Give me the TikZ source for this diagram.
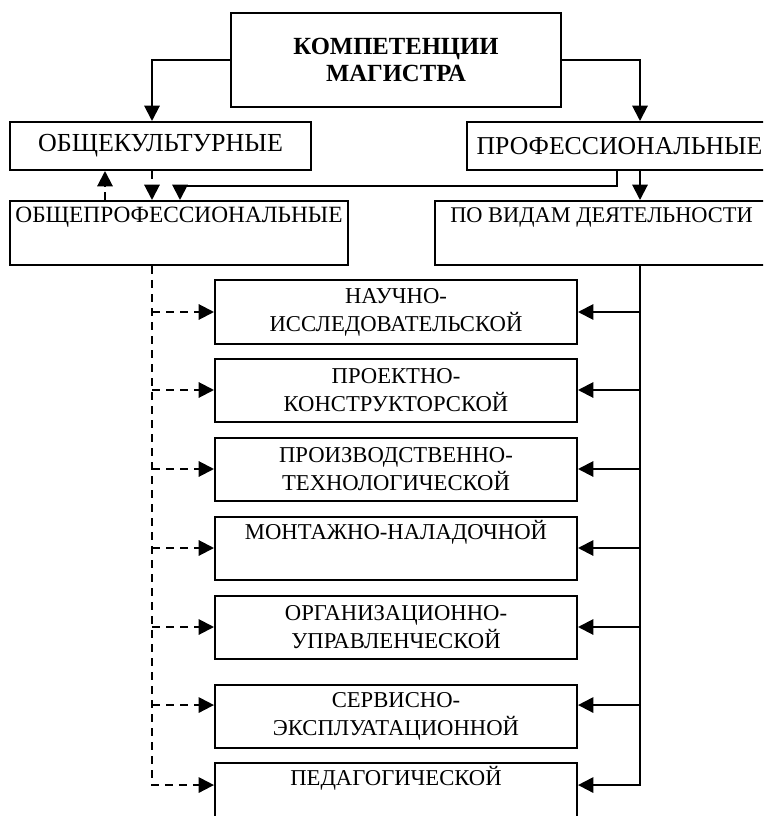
\documentclass[tikz,border=0pt]{standalone}
\usepackage{fontspec}
\setmainfont{Liberation Serif}
\usetikzlibrary{arrows.meta}

\begin{document}
\begin{tikzpicture}[x=0.75pt, y=-0.75pt, line width=1.5pt,
    box/.style={draw, line width=1.5pt, inner sep=0pt, align=center,
      minimum width=271.5pt, minimum height=47.25pt, font=\fontsize{17}{21}\selectfont},
    tip/.style={-{Triangle[length=11.5pt,width=11.5pt]}},
    dsh/.style={dash pattern=on 6pt off 4.5pt}]
  \useasboundingbox (0,0) rectangle (763,816);
  \clip (0,0) rectangle (763,816);
  % columns of the connectors
  \coordinate (lcol) at (152,0);
  \coordinate (ucol) at (105,0);
  \coordinate (pcol) at (617,0);
  \coordinate (rcol) at (640,0);
  \coordinate (mid) at (180,186);
  % upper part
  \node[box, minimum width=247.5pt, minimum height=70.5pt,
    font=\bfseries\fontsize{18.5}{20.5}\selectfont] (mag) at (396,60) {КОМПЕТЕНЦИИ\\МАГИСТРА};
  \node[box, minimum width=225.75pt, minimum height=36pt, font=\fontsize{19.5}{22}\selectfont] (obk) at (160.5,146) {ОБЩЕКУЛЬТУРНЫЕ};
  \node[box, minimum width=228.75pt, minimum height=36pt, font=\fontsize{19.3}{22}\selectfont] (prof) at (619.5,146) {ПРОФЕССИОНАЛЬНЫЕ};
  \node[box, minimum width=253.5pt, minimum height=48pt, font=\fontsize{17.5}{21}\selectfont] (obp) at (179,233) {ОБЩЕПРОФЕССИОНАЛЬНЫЕ\\\strut};
  \node[box, minimum width=249.75pt, minimum height=48pt, font=\fontsize{16.8}{21}\selectfont] (vid) at (601.5,233) {ПО ВИДАМ ДЕЯТЕЛЬНОСТИ\\\strut};
  % kinds of activity
  \node[box] (n1) at (396,312) {НАУЧНО-\\ИССЛЕДОВАТЕЛЬСКОЙ};
  \node[box] (n2) at (396,390) {ПРОЕКТНО-\\КОНСТРУКТОРСКОЙ};
  \node[box] (n3) at (396,469) {ПРОИЗВОДСТВЕННО-\\ТЕХНОЛОГИЧЕСКОЙ};
  \node[box] (n4) at (396,548) {МОНТАЖНО-НАЛАДОЧНОЙ\\\strut};
  \node[box] (n5) at (396,627) {ОРГАНИЗАЦИОННО-\\УПРАВЛЕНЧЕСКОЙ};
  \node[box] (n6) at (396,716.5) {СЕРВИСНО-\\ЭКСПЛУАТАЦИОННОЙ};
  \node[box] (n7) at (396,794.5) {ПЕДАГОГИЧЕСКОЙ\\\strut};
  % arrows between the upper boxes
  \draw[tip] (mag.west) -| (lcol |- obk.north);
  \draw[tip] (mag.east) -| (rcol |- prof.north);
  \draw[tip, dsh] (ucol |- obp.north) -- (ucol |- obk.south);
  \draw[tip, dsh] (lcol |- obk.south) -- (lcol |- obp.north);
  \draw[tip] (pcol |- prof.south) |- (mid) -- (mid |- obp.north);
  \draw[tip] (rcol |- prof.south) -- (rcol |- vid.north);
  % branches to the kinds of activity
  \coordinate (w7) at ([yshift=7.1pt]n7.west);
  \coordinate (e7) at ([yshift=7.1pt]n7.east);
  \draw[tip, dsh] (lcol |- obp.south) |- (w7);
  \draw[tip] (rcol |- vid.south) |- (e7);
  \foreach \n/\s in {n1/0, n2/0, n3/0, n4/0, n5/0, n6/8.6} {
    \coordinate (w) at ([yshift=\s pt]\n.west);
    \coordinate (e) at ([yshift=\s pt]\n.east);
    \draw[tip, dsh] (lcol |- w) -- (w);
    \draw[tip] (rcol |- e) -- (e);
  }
\end{tikzpicture}
\end{document}
